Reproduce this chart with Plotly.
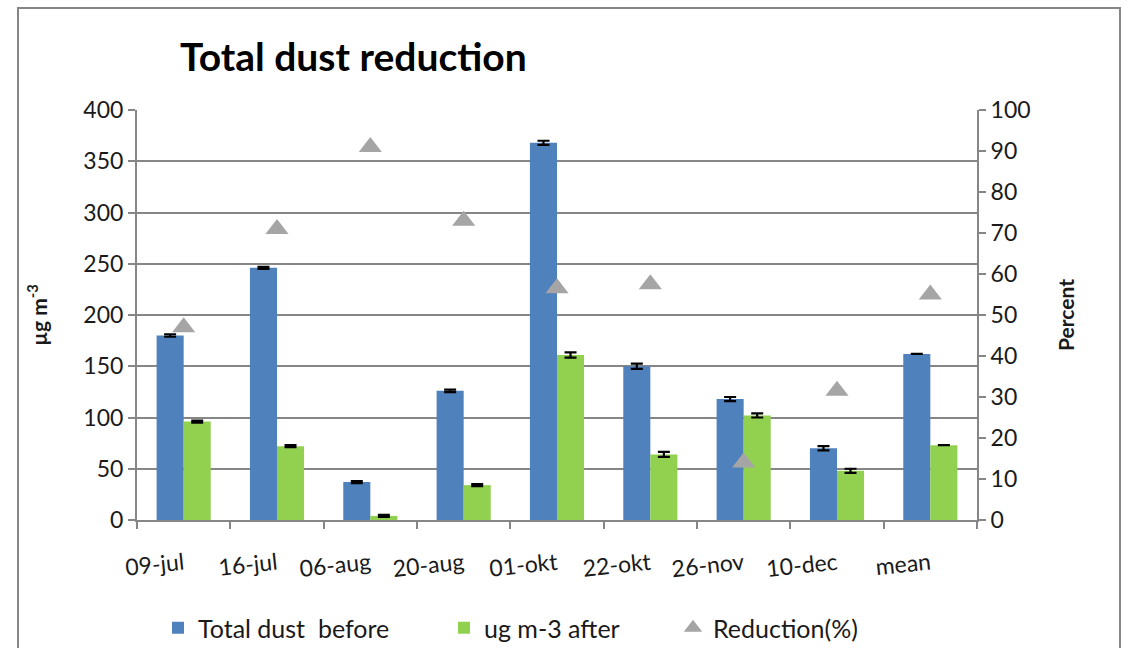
import plotly.graph_objects as go

categories = ["09-jul", "16-jul", "06-aug", "20-aug", "01-okt", "22-okt", "26-nov", "10-dec", "mean"]
before = [180, 246, 37, 126, 368, 150, 118, 70, 162]
before_err = [1.2, 1.0, 1.0, 1.2, 2.0, 2.5, 2.0, 2.0, 0]
after = [96, 72, 4, 34, 161, 64, 102, 48, 73]
after_err = [1.0, 1.0, 1.0, 1.0, 2.5, 2.5, 2.0, 2.0, 0]
reduction = [47, 71, 91, 73, 56.5, 57.5, 14, 31.5, 55]

blue = "#4F81BD"
green = "#92D050"
grey = "#A5A5A5"
axis_grey = "#868686"
font_family = "Lato, 'Open Sans', sans-serif"

W, H = 1132, 648
L, R, T, B = 137, 155, 110, 128
PW, PH = W - L - R, H - T - B


def px_x(p):
    return (p - L) / PW


def px_y(p):
    return (H - B - p) / PH


fig = go.Figure()
fig.add_trace(go.Bar(
    x=categories, y=before, name="Total dust\u00a0 before", legend="legend",
    marker=dict(color=blue, line=dict(width=0)),
    error_y=dict(type="data", array=before_err, visible=True,
                 color="black", thickness=2.2, width=6),
))
fig.add_trace(go.Bar(
    x=categories, y=after, name="ug m-3 after", legend="legend2",
    marker=dict(color=green, line=dict(width=0)),
    error_y=dict(type="data", array=after_err, visible=True,
                 color="black", thickness=2.2, width=6),
))
fig.add_trace(go.Scatter(
    x=categories, y=reduction, name="Reduction(%)", yaxis="y2", legend="legend3",
    mode="markers", marker=dict(symbol="triangle-up", size=20, color=grey),
))

leg_common = dict(orientation="h", yanchor="middle", y=px_y(628), xanchor="left",
                  font=dict(size=25, color="#1a1a1a"), bgcolor="rgba(0,0,0,0)")

fig.update_layout(
    width=W, height=H,
    paper_bgcolor="white", plot_bgcolor="white",
    margin=dict(l=L, r=R, t=T, b=B, autoexpand=False),
    font=dict(family=font_family, size=23, color="#1a1a1a"),
    barmode="group", bargap=0.42, bargroupgap=0,
    showlegend=True,
    title=dict(text="<b>Total dust reduction</b>", x=180 / W, xanchor="left",
               y=1 - 57 / H, yanchor="middle",
               font=dict(size=39, color="black", family=font_family)),
    xaxis=dict(
        range=[-0.5, 8.5],
        showline=True, linecolor=axis_grey, linewidth=2,
        ticks="outside", tickson="boundaries", ticklen=7, tickcolor=axis_grey, tickwidth=2,
        tickangle=-6, tickfont=dict(size=23), ticklabelstandoff=20,
    ),
    yaxis=dict(
        range=[0, 400], dtick=50, showgrid=True, gridcolor=axis_grey, gridwidth=2,
        showline=True, linecolor=axis_grey, linewidth=2,
        ticks="outside", ticklen=7, tickcolor=axis_grey, tickwidth=2,
        tickfont=dict(size=23),
        title=dict(text="<b>µg m<sup>-3</sup></b>", font=dict(size=21), standoff=30),
        zeroline=False,
    ),
    yaxis2=dict(
        range=[0, 100], dtick=10, overlaying="y", side="right", showgrid=False,
        showline=True, linecolor=axis_grey, linewidth=2,
        ticks="outside", ticklen=7, tickcolor=axis_grey, tickwidth=2,
        tickfont=dict(size=23),
        title=dict(text="<b>Percent</b>", font=dict(size=21), standoff=30),
        zeroline=False,
    ),
    legend=dict(x=px_x(158), **leg_common),
    legend2=dict(x=px_x(444), **leg_common),
    legend3=dict(x=px_x(673), **leg_common),
    shapes=[dict(type="rect", xref="paper", yref="paper", x0=px_x(18), x1=px_x(1120),
                 y0=px_y(700), y1=px_y(8), line=dict(color=axis_grey, width=2), layer="below")],
)

fig.write_html("out.html", config={"displayModeBar": False},
               post_script="document.body.style.margin='0px';")
